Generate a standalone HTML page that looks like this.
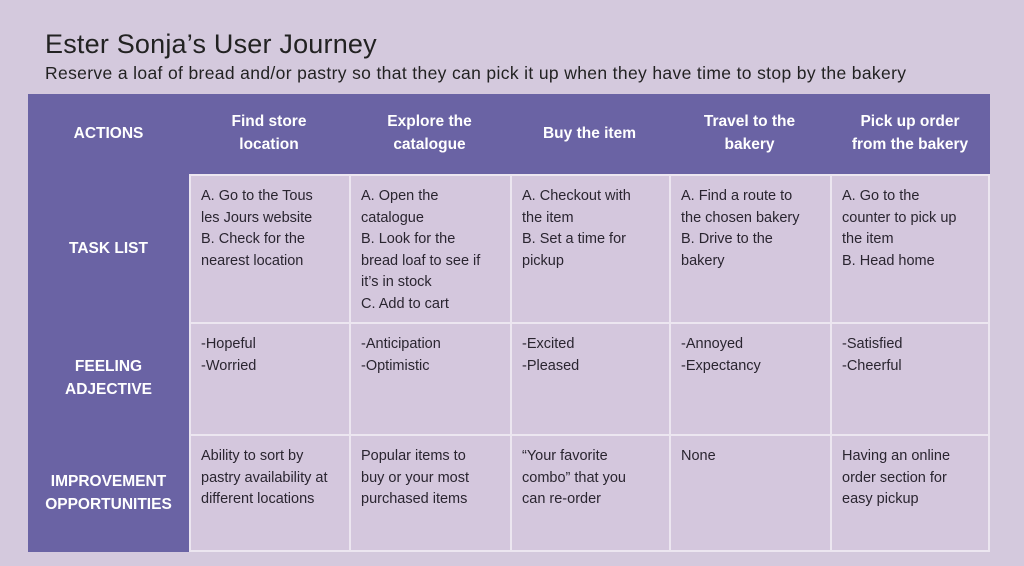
<!DOCTYPE html><html><head><style>
body{margin:0;width:1024px;height:566px;background:#d4c9dd;font-family:"Liberation Sans",sans-serif;position:relative;overflow:hidden;color:#2a2530}
.a{position:absolute}
h1{position:absolute;left:45px;top:29px;margin:0;font-size:27px;font-weight:normal;color:#222;letter-spacing:0.2px}
.sub{left:45px;top:63px;font-size:17.5px;color:#222;letter-spacing:0.35px;white-space:nowrap}
.p{background:#6a63a4}
.c{background:#d4c7dd;border-left:2px solid #ece6f0;border-top:2px solid #ece6f0;box-sizing:border-box;padding:10px 10px 0 10px;font-size:14.5px;line-height:21.5px;white-space:nowrap}
.h{color:#fff;font-weight:bold;font-size:15.5px;line-height:23px;text-align:center;display:flex;align-items:center;justify-content:center}
</style></head><body>
<h1>Ester Sonja’s User Journey</h1>
<div class="a sub">Reserve a loaf of bread and/or pastry so that they can pick it up when they have time to stop by the bakery</div>
<div class="a p" style="left:28px;top:94px;width:962px;height:80px"></div>
<div class="a p" style="left:28px;top:94px;width:161px;height:458px"></div>
<div class="a h" style="left:28px;top:94px;width:161px;height:78px">ACTIONS</div>
<div class="a h" style="left:28px;top:174px;width:161px;height:148px">TASK LIST</div>
<div class="a h" style="left:28px;top:322px;width:161px;height:112px">FEELING<br>ADJECTIVE</div>
<div class="a h" style="left:28px;top:434px;width:161px;height:118px">IMPROVEMENT<br>OPPORTUNITIES</div>
<div class="a h" style="left:189px;top:94px;width:160px;height:78px">Find store<br>location</div>
<div class="a h" style="left:349px;top:94px;width:161px;height:78px">Explore the<br>catalogue</div>
<div class="a h" style="left:510px;top:94px;width:159px;height:78px">Buy the item</div>
<div class="a h" style="left:669px;top:94px;width:161px;height:78px">Travel to the<br>bakery</div>
<div class="a h" style="left:830px;top:94px;width:160px;height:78px">Pick up order<br>from the bakery</div>

<div class="a c" style="left:189px;top:174px;width:160px;height:148px">A. Go to the Tous<br>les Jours website<br>B. Check for the<br>nearest location</div>
<div class="a c" style="left:349px;top:174px;width:161px;height:148px">A. Open the<br>catalogue<br>B. Look for the<br>bread loaf to see if<br>it’s in stock<br>C. Add to cart</div>
<div class="a c" style="left:510px;top:174px;width:159px;height:148px">A. Checkout with<br>the item<br>B. Set a time for<br>pickup</div>
<div class="a c" style="left:669px;top:174px;width:161px;height:148px">A. Find a route to<br>the chosen bakery<br>B. Drive to the<br>bakery</div>
<div class="a c" style="left:830px;top:174px;width:160px;height:148px;border-right:2px solid #ece6f0">A. Go to the<br>counter to pick up<br>the item<br>B. Head home</div>

<div class="a c" style="left:189px;top:322px;width:160px;height:112px">-Hopeful<br>-Worried</div>
<div class="a c" style="left:349px;top:322px;width:161px;height:112px">-Anticipation<br>-Optimistic</div>
<div class="a c" style="left:510px;top:322px;width:159px;height:112px">-Excited<br>-Pleased</div>
<div class="a c" style="left:669px;top:322px;width:161px;height:112px">-Annoyed<br>-Expectancy</div>
<div class="a c" style="left:830px;top:322px;width:160px;height:112px;border-right:2px solid #ece6f0">-Satisfied<br>-Cheerful</div>

<div class="a c" style="left:189px;top:434px;width:160px;height:118px;border-bottom:2px solid #ece6f0">Ability to sort by<br>pastry availability at<br>different locations</div>
<div class="a c" style="left:349px;top:434px;width:161px;height:118px;border-bottom:2px solid #ece6f0">Popular items to<br>buy or your most<br>purchased items</div>
<div class="a c" style="left:510px;top:434px;width:159px;height:118px;border-bottom:2px solid #ece6f0">“Your favorite<br>combo” that you<br>can re-order</div>
<div class="a c" style="left:669px;top:434px;width:161px;height:118px;border-bottom:2px solid #ece6f0">None</div>
<div class="a c" style="left:830px;top:434px;width:160px;height:118px;border-right:2px solid #ece6f0;border-bottom:2px solid #ece6f0">Having an online<br>order section for<br>easy pickup</div>
</body></html>
